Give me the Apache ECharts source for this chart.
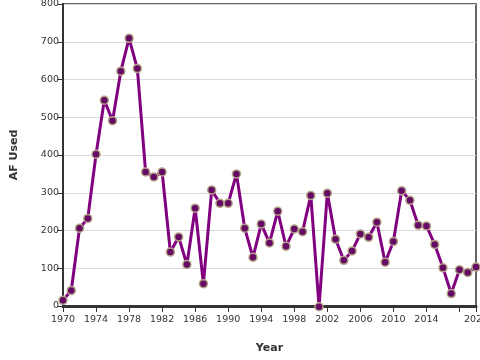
<!DOCTYPE html>
<html>
<head>
<meta charset="utf-8">
<script src="https://cdn.jsdelivr.net/npm/echarts@6/dist/echarts.min.js"></script>
<style>
  html, body { margin: 0; padding: 0; background: #fff; }
  #chart { width: 480px; height: 360px; }
</style>
</head>
<body>
<div id="chart"></div>
<script>
const years = [];
for (let y = 1970; y <= 2020; y++) years.push(y);

const afUsed = [
  15, 41, 206, 232, 402, 545, 491, 622, 709, 629,
  355, 342, 355, 143, 183, 110, 259, 59, 307, 272,
  272, 350, 206, 129, 217, 167, 251, 158, 204, 197,
  293, -2, 299, 177, 121, 146, 191, 182, 222, 116,
  171, 305, 280, 214, 212, 163, 101, 33, 96, 89,
  103
];

const yTicks = [0, 100, 200, 300, 400, 500, 600, 700, 800];

let chartElem = document.getElementById('chart');
let chart = echarts.init(chartElem);

const axisFont = { fontFamily: 'DejaVu Sans', fontSize: 9.5, color: '#333' };

chart.setOption({
  animation: false,
  grid: {
    left: 63, right: 4, top: 4, bottom: 54,
    outerBoundsMode: 'none',
    containLabel: false,
    show: true, borderColor: '#333', borderWidth: 1.5
  },
  xAxis: {
    type: 'value',
    min: 1970,
    max: 2020,
    interval: 4,
    name: 'Year',
    nameLocation: 'middle',
    nameGap: 37,
    nameTextStyle: { fontFamily: 'DejaVu Sans', fontSize: 11, fontWeight: 'bold', color: '#333' },
    axisLine: { lineStyle: { color: '#333', width: 3 } },
    axisTick: { length: 6, lineStyle: { color: '#333', width: 1 } },
    axisLabel: {
      ...axisFont,
      margin: 9,
      showMaxLabel: true,
      hideOverlap: false,
      formatter: v => (v === 2018 ? '' : String(v))
    },
    splitLine: { show: false }
  },
  yAxis: {
    type: 'value',
    min: yTicks[0],
    max: yTicks[yTicks.length - 1],
    interval: 100,
    name: 'AF Used',
    nameLocation: 'middle',
    nameGap: 43,
    nameTextStyle: { fontFamily: 'DejaVu Sans', fontSize: 11, fontWeight: 'bold', color: '#333' },
    axisLine: { show: true, lineStyle: { color: '#333', width: 2 } },
    axisTick: { show: true, length: 6, lineStyle: { color: '#333', width: 1 } },
    axisLabel: { ...axisFont, margin: 4 },
    splitLine: { lineStyle: { color: '#d9d9d9', width: 1 } }
  },
  series: [{
    type: 'line',
    data: years.map((y, i) => [y, afUsed[i]]),
    clip: false,
    symbol: 'circle',
    symbolSize: 8,
    lineStyle: { color: '#800080', width: 3 },
    itemStyle: { color: '#650a65', borderColor: '#b3a486', borderWidth: 1.5 }
  }]
});
</script>
</body>
</html>
